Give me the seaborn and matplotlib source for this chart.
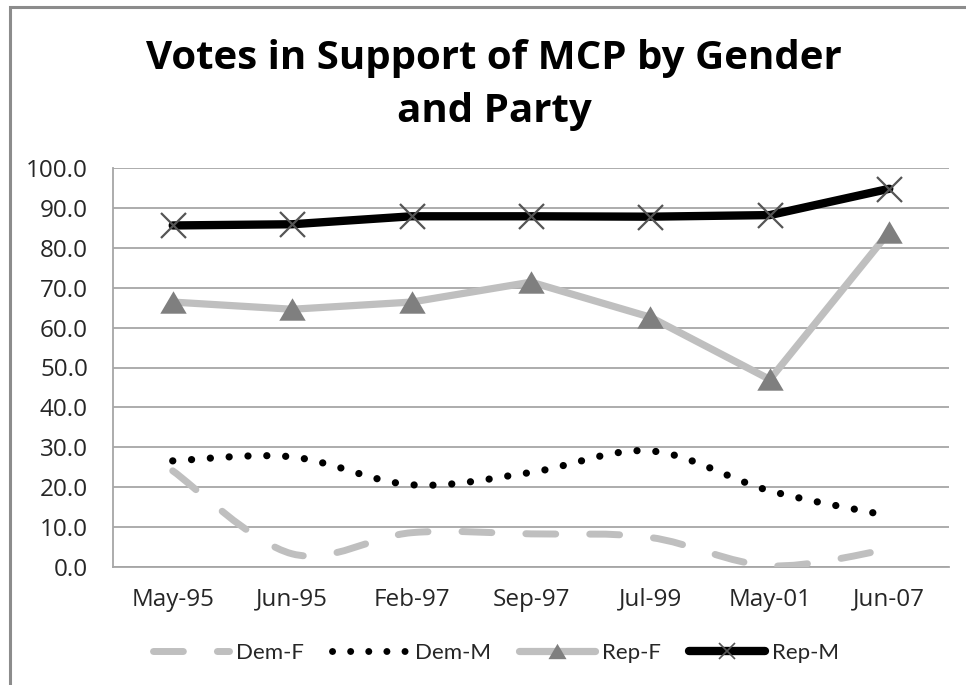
import numpy as np
import pandas as pd
import matplotlib
matplotlib.use("Agg")
import matplotlib.pyplot as plt
import seaborn as sns
from matplotlib.path import Path
from matplotlib.patches import PathPatch, Rectangle
from matplotlib.lines import Line2D

# Survey dates and support (%) for each gender/party group
dates = ["May-95", "Jun-95", "Feb-97", "Sep-97", "Jul-99", "May-01", "Jun-07"]
dem_f = [24.1, 3.3, 8.6, 8.3, 7.4, 0.3, 4.5]
dem_m = [26.6, 27.6, 20.6, 23.7, 29.1, 19.1, 12.8]
rep_f = [66.4, 64.6, 66.4, 71.4, 62.6, 47.0, 84.0]
rep_m = [85.6, 85.9, 87.9, 87.9, 87.8, 88.2, 94.8]
y_ticks = [0, 10, 20, 30, 40, 50, 60, 70, 80, 90, 100]

sns.set_theme(style="white")
plt.rcParams["font.family"] = ["Open Sans", "DejaVu Sans"]

pos = np.arange(len(dates))
df = pd.DataFrame({"pos": pos, "Rep-F": rep_f, "Rep-M": rep_m})

W, H = 966, 685
fig = plt.figure(figsize=(W / 100, H / 100), dpi=100)
ax = fig.add_axes([113 / W, 1 - 567 / H, (949 - 113) / W, (567 - 168) / H])

GRID = "#a6a6a6"
LIGHT = "#bfbfbf"
MID = "#7f7f7f"
tri = [(0, 0.85), (-1, -0.85), (1, -0.85), (0, 0.85)]


def smooth_path(xs, ys):
    """Cubic Bezier path through the points (Catmull-Rom style tangents)."""
    pts = np.column_stack([xs, ys]).astype(float)
    n = len(pts)
    verts = [pts[0]]
    codes = [Path.MOVETO]
    for i in range(n - 1):
        p0 = pts[max(i - 1, 0)]
        p1 = pts[i]
        p2 = pts[i + 1]
        p3 = pts[min(i + 2, n - 1)]
        verts += [p1 + (p2 - p0) / 6, p2 - (p3 - p1) / 6, p2]
        codes += [Path.CURVE4] * 3
    return Path(verts, codes)


DASH = (0, (4.3, 4.9))
DOT = (0, (0.01, 2.6))

# Democratic series: smoothed dashed / dotted curves
ax.add_patch(PathPatch(smooth_path(pos, dem_f), fill=False, edgecolor=LIGHT,
                       lw=5.0, linestyle=DASH, capstyle="round", zorder=3))
ax.add_patch(PathPatch(smooth_path(pos, dem_m), fill=False, edgecolor="black",
                       lw=5.2, linestyle=DOT, capstyle="round", zorder=3))

# Republican series: straight segments with markers
sns.lineplot(data=df, x="pos", y="Rep-F", ax=ax, color=LIGHT, lw=5.2,
             marker=tri, markersize=19, markerfacecolor=MID,
             markeredgecolor=MID, markeredgewidth=0, zorder=4)
sns.lineplot(data=df, x="pos", y="Rep-M", ax=ax, color="black", lw=6,
             marker="x", markersize=18, markeredgecolor="#555555",
             markeredgewidth=1.6, zorder=5)

ax.set_xlim(-0.5, len(dates) - 0.5)
ax.set_ylim(0, 100)
ax.set_yticks(y_ticks)
ax.set_yticklabels([f"{v:.1f}" for v in y_ticks])
ax.set_xticks(pos)
ax.set_xticklabels(dates)
ax.set_xlabel("")
ax.set_ylabel("")
ax.yaxis.grid(True, color=GRID, lw=1.3)
ax.xaxis.grid(False)
for side in ["top", "right"]:
    ax.spines[side].set_visible(False)
for side in ["left", "bottom"]:
    ax.spines[side].set_color(GRID)
    ax.spines[side].set_linewidth(1.3)
ax.tick_params(axis="y", length=0, pad=18, labelsize=17.5, labelcolor="#262626")
ax.tick_params(axis="x", length=0, pad=15, labelsize=17.5, labelcolor="#262626")

# Title
title_kw = dict(ha="center", va="baseline", fontsize=29, fontweight="bold",
                family=["Open Sans", "DejaVu Sans"], color="black")
fig.text(494 / W, 1 - 69 / H, "Votes in Support of MCP by Gender", **title_kw)
fig.text(494 / W, 1 - 122 / H, "and Party", **title_kw)

# Legend
handles = [
    Line2D([], [], color=LIGHT, lw=5.0, linestyle=DASH, dash_capstyle="round"),
    Line2D([], [], color="black", lw=5.0, linestyle=DOT, dash_capstyle="round"),
    Line2D([], [], color=LIGHT, lw=5.2, marker=tri, markersize=13,
           markerfacecolor=MID, markeredgewidth=0),
    Line2D([], [], color="black", lw=6, marker="x", markersize=12,
           markeredgecolor="#555555", markeredgewidth=1.2),
]
fig.legend(handles, ["Dem-F", "Dem-M", "Rep-F", "Rep-M"], loc="center",
           bbox_to_anchor=(496 / W, 1 - 653 / H), ncol=4, frameon=False,
           handlelength=3.4, handletextpad=0.3, columnspacing=1.3,
           prop={"family": ["Lato", "DejaVu Sans"], "size": 16})

# Chart frame
fig.patches.append(Rectangle((10 / W, -0.1), 1.2, 1.1 - 7 / H,
                             transform=fig.transFigure, fill=False,
                             edgecolor="#8c8c8c", lw=2.2, zorder=10))

fig.savefig("out.png", dpi=100)
